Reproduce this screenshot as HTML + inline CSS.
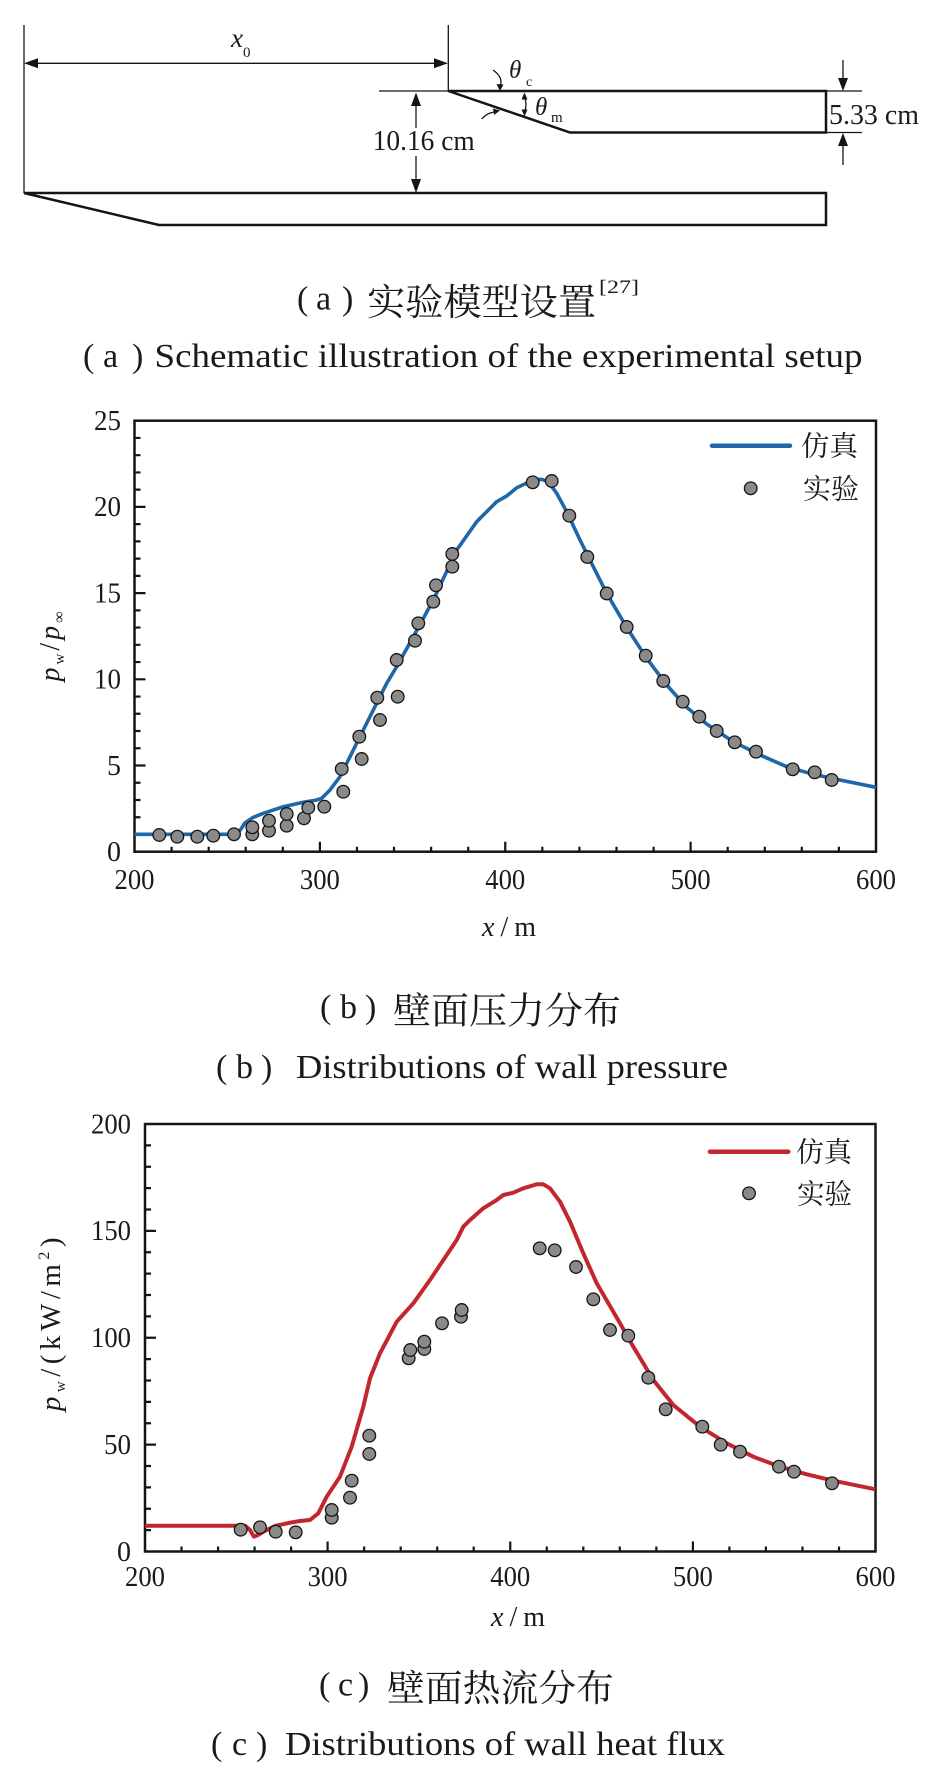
<!DOCTYPE html>
<html>
<head>
<meta charset="utf-8">
<style>
html,body{margin:0;padding:0;background:#fff;}
svg{display:block;}
text{font-family:"Liberation Serif","Noto Serif CJK SC",serif;fill:#1a1a1a;}
.cjk{font-family:"Noto Serif CJK SC","Liberation Serif",serif;}
</style>
</head>
<body>
<svg width="934" height="1780" viewBox="0 0 934 1780" xmlns="http://www.w3.org/2000/svg">
<rect width="934" height="1780" fill="#fff"/>

<!-- ============ (a) schematic ============ -->
<g stroke="#151515" fill="none" stroke-width="1.3">
  <line x1="24" y1="25" x2="24" y2="193"/>
  <line x1="448.3" y1="25" x2="448.3" y2="91"/>
  <line x1="30" y1="63.3" x2="442" y2="63.3"/>
  <line x1="379" y1="91" x2="448.3" y2="91"/>
  <line x1="826" y1="91" x2="862" y2="91"/>
  <line x1="826" y1="132.5" x2="862" y2="132.5"/>
  <line x1="843" y1="60" x2="843" y2="80"/>
  <line x1="843" y1="145" x2="843" y2="165"/>
  <line x1="416" y1="104" x2="416" y2="128"/>
  <line x1="416" y1="156" x2="416" y2="181"/>
  <path d="M493,70 Q503,77 500.5,85"/>
  <path d="M524.5,97 Q527.5,104.5 524.5,112"/>
  <path d="M481.7,119 Q488,112 496,112"/>
</g>
<g fill="#151515" stroke="none">
  <polygon points="24,63.3 38,58.3 38,68.3"/>
  <polygon points="448,63.3 434,58.3 434,68.3"/>
  <polygon points="843,91 838,78 848,78"/>
  <polygon points="843,133 838,146 848,146"/>
  <polygon points="416,92.5 411,106 421,106"/>
  <polygon points="416,193 411,179 421,179"/>
  <polygon points="500,91 496.5,84 503.5,84.5"/>
  <polygon points="524.5,92.5 521.5,99.5 527.5,99.5"/>
  <polygon points="524.5,116.5 521.5,109.5 527.5,109.5"/>
  <polygon points="500,110.5 493,108.5 494,115"/>
</g>
<g stroke="#151515" fill="none" stroke-width="2.5" stroke-linejoin="miter">
  <polygon points="448.3,91 826,91 826,132.5 570,132.5"/>
  <polygon points="24,193 826,193 826,225 159,225"/>
</g>
<text x="231" y="47" font-size="27" font-style="italic">x</text>
<text x="243" y="57" font-size="15">0</text>
<text x="509" y="78" font-size="25" font-style="italic">θ</text>
<text x="526" y="86" font-size="14">c</text>
<text x="535" y="115" font-size="25" font-style="italic">θ</text>
<text x="551" y="122" font-size="15">m</text>
<rect x="371" y="128" width="106" height="26" fill="#fff"/>
<text x="372.7" y="150" font-size="28" textLength="102" lengthAdjust="spacingAndGlyphs">10.16 cm</text>
<text x="829" y="124" font-size="28" textLength="90" lengthAdjust="spacingAndGlyphs">5.33 cm</text>

<!-- caption a -->
<text x="297" y="309.5" font-size="34">(</text>
<text x="316" y="309.5" font-size="34">a</text>
<text x="342" y="309.5" font-size="34">)</text>
<text class="cjk" x="367" y="299" font-size="37" dominant-baseline="central" textLength="229" lengthAdjust="spacingAndGlyphs">实验模型设置</text>
<text x="599" y="293" font-size="19" textLength="40" lengthAdjust="spacingAndGlyphs">[27]</text>
<text x="83" y="367" font-size="34">(</text>
<text x="103" y="367" font-size="34">a</text>
<text x="132" y="367" font-size="34">)</text>
<text x="154.5" y="367" font-size="34" textLength="708" lengthAdjust="spacingAndGlyphs">Schematic illustration of the experimental setup</text>

<!-- ============ (b) pressure ============ -->
<rect x="134.5" y="420.7" width="741.5" height="431" fill="none" stroke="#151515" stroke-width="2.5"/>
<path stroke="#151515" stroke-width="2.2" fill="none" d="
M171.6 851.7v-5 M208.7 851.7v-5 M245.7 851.7v-5 M282.8 851.7v-5 M319.9 851.7v-10
M356.95 851.7v-5 M394 851.7v-5 M431.1 851.7v-5 M468.2 851.7v-5 M505.25 851.7v-10
M542.3 851.7v-5 M579.4 851.7v-5 M616.5 851.7v-5 M653.6 851.7v-5 M690.6 851.7v-10
M727.7 851.7v-5 M764.8 851.7v-5 M801.8 851.7v-5 M838.9 851.7v-5
M134.5 834.46h6 M134.5 817.22h6 M134.5 799.98h6 M134.5 782.74h6 M134.5 765.5h11
M134.5 748.26h6 M134.5 731.02h6 M134.5 713.78h6 M134.5 696.54h6 M134.5 679.3h11
M134.5 662.06h6 M134.5 644.82h6 M134.5 627.58h6 M134.5 610.34h6 M134.5 593.1h11
M134.5 575.86h6 M134.5 558.62h6 M134.5 541.38h6 M134.5 524.14h6 M134.5 506.9h11
M134.5 489.66h6 M134.5 472.42h6 M134.5 455.18h6 M134.5 437.94h6"/>
<g font-size="28" text-anchor="middle">
  <text x="134.5" y="889" textLength="40" lengthAdjust="spacingAndGlyphs">200</text>
  <text x="319.9" y="889" textLength="40" lengthAdjust="spacingAndGlyphs">300</text>
  <text x="505.25" y="889" textLength="40" lengthAdjust="spacingAndGlyphs">400</text>
  <text x="690.6" y="889" textLength="40" lengthAdjust="spacingAndGlyphs">500</text>
  <text x="876" y="889" textLength="40" lengthAdjust="spacingAndGlyphs">600</text>
</g>
<g font-size="28" text-anchor="end">
  <text x="121" y="861">0</text>
  <text x="121" y="774.8">5</text>
  <text x="121" y="688.6" textLength="27" lengthAdjust="spacingAndGlyphs">10</text>
  <text x="121" y="602.4" textLength="27" lengthAdjust="spacingAndGlyphs">15</text>
  <text x="121" y="516.2" textLength="27" lengthAdjust="spacingAndGlyphs">20</text>
  <text x="121" y="430" textLength="27" lengthAdjust="spacingAndGlyphs">25</text>
</g>
<text x="482" y="936" font-size="28" textLength="54"><tspan font-style="italic">x</tspan>/m</text>
<text transform="translate(59,645) rotate(-90)" text-anchor="middle" font-size="28" letter-spacing="3"><tspan font-style="italic">p</tspan><tspan font-size="15" dy="5">w</tspan><tspan dy="-5">/</tspan><tspan font-style="italic">p</tspan><tspan font-size="16" dy="5">∞</tspan></text>

<polyline fill="none" stroke="#1f67a8" stroke-width="3.6" stroke-linejoin="round" points="134.5,834.3 236.7,834.3 241,829 245,822.7 253,817.5 263.3,813.3 283.3,806.7 303.3,802.3 316.7,800 321.7,798.3 330,790 340,776.7 350,756.7 363.3,730 373.3,710 386.7,683.3 396.7,666.7 413.3,636.7 433.3,600 456.7,550 476.7,521.7 496.7,501.7 506.7,496 516.7,487.7 533.3,480 541.7,479.3 548.3,481.7 556.7,493.3 566.7,511.7 580,540 593.3,566.7 606.7,593.3 626.7,627.5 646.7,658.3 666.7,685 686.7,707.3 706.7,724 733.3,741.7 760,755 786.7,766.7 813.3,774.3 840,780 876,787.3"/>

<g fill="#8a8a8a" stroke="#141414" stroke-width="1.3">
  <circle cx="159.3" cy="835" r="6.3"/><circle cx="177.3" cy="836.7" r="6.3"/><circle cx="197.3" cy="836.7" r="6.3"/>
  <circle cx="213.3" cy="835.7" r="6.3"/><circle cx="234" cy="834.3" r="6.3"/>
  <circle cx="252.3" cy="834.3" r="6.3"/><circle cx="252.3" cy="827.3" r="6.3"/>
  <circle cx="269" cy="830.7" r="6.3"/><circle cx="269" cy="820.7" r="6.3"/>
  <circle cx="286.7" cy="825.7" r="6.3"/><circle cx="286.7" cy="814" r="6.3"/>
  <circle cx="304" cy="818.3" r="6.3"/><circle cx="308.3" cy="807.7" r="6.3"/><circle cx="324.3" cy="806.7" r="6.3"/>
  <circle cx="343.3" cy="791.7" r="6.3"/><circle cx="341.7" cy="769" r="6.3"/>
  <circle cx="361.7" cy="759" r="6.3"/><circle cx="359.3" cy="736.7" r="6.3"/>
  <circle cx="380" cy="720" r="6.3"/><circle cx="377.3" cy="697.7" r="6.3"/>
  <circle cx="397.7" cy="696.7" r="6.3"/><circle cx="396.7" cy="660" r="6.3"/>
  <circle cx="415" cy="640.7" r="6.3"/><circle cx="418.3" cy="623.3" r="6.3"/>
  <circle cx="433.3" cy="601.7" r="6.3"/><circle cx="436" cy="585.3" r="6.3"/>
  <circle cx="452.3" cy="566.7" r="6.3"/><circle cx="452.3" cy="554" r="6.3"/>
  <circle cx="532.7" cy="482.3" r="6.3"/><circle cx="551.7" cy="481" r="6.3"/>
  <circle cx="569.3" cy="515.7" r="6.3"/><circle cx="587.3" cy="557" r="6.3"/>
  <circle cx="606.7" cy="593.5" r="6.3"/><circle cx="626.7" cy="627" r="6.3"/>
  <circle cx="645.7" cy="655.7" r="6.3"/><circle cx="663.3" cy="681" r="6.3"/>
  <circle cx="682.7" cy="701.7" r="6.3"/><circle cx="699.3" cy="716.7" r="6.3"/>
  <circle cx="716.7" cy="731" r="6.3"/><circle cx="734.7" cy="742.3" r="6.3"/>
  <circle cx="756" cy="751.7" r="6.3"/><circle cx="792.7" cy="769.3" r="6.3"/>
  <circle cx="814.7" cy="772.3" r="6.3"/><circle cx="831.7" cy="780" r="6.3"/>
  <circle cx="750.7" cy="488.3" r="6.3"/>
</g>
<line x1="712" y1="445.7" x2="790" y2="445.7" stroke="#1f67a8" stroke-width="4.5" stroke-linecap="round"/>
<text class="cjk" x="801" y="444.5" font-size="28" dominant-baseline="central" textLength="57" lengthAdjust="spacingAndGlyphs">仿真</text>
<text class="cjk" x="803" y="487.5" font-size="28" dominant-baseline="central" textLength="56" lengthAdjust="spacingAndGlyphs">实验</text>

<!-- caption b -->
<text x="320" y="1018" font-size="34">(</text>
<text x="340" y="1018" font-size="34">b</text>
<text x="365" y="1018" font-size="34">)</text>
<text class="cjk" x="393" y="1007.5" font-size="37" dominant-baseline="central" textLength="228" lengthAdjust="spacingAndGlyphs">壁面压力分布</text>
<text x="216" y="1078" font-size="34">(</text>
<text x="236" y="1078" font-size="34">b</text>
<text x="261" y="1078" font-size="34">)</text>
<text x="296" y="1078" font-size="34" textLength="432" lengthAdjust="spacingAndGlyphs">Distributions of wall pressure</text>

<!-- ============ (c) heat flux ============ -->
<rect x="145" y="1124" width="730.5" height="427.5" fill="none" stroke="#151515" stroke-width="2.5"/>
<path stroke="#151515" stroke-width="2.2" fill="none" d="
M181.5 1551.5v-5 M218.05 1551.5v-5 M254.6 1551.5v-5 M291.1 1551.5v-5 M327.6 1551.5v-10
M364.15 1551.5v-5 M400.7 1551.5v-5 M437.2 1551.5v-5 M473.7 1551.5v-5 M510.25 1551.5v-10
M546.8 1551.5v-5 M583.3 1551.5v-5 M619.8 1551.5v-5 M656.35 1551.5v-5 M692.9 1551.5v-10
M729.4 1551.5v-5 M765.9 1551.5v-5 M802.45 1551.5v-5 M839 1551.5v-5
M145 1530.1h6 M145 1508.75h6 M145 1487.4h6 M145 1466h6 M145 1444.6h11
M145 1423.25h6 M145 1401.9h6 M145 1380.5h6 M145 1359.1h6 M145 1337.75h11
M145 1316.4h6 M145 1295h6 M145 1273.6h6 M145 1252.25h6 M145 1230.9h11
M145 1209.5h6 M145 1188.1h6 M145 1166.75h6 M145 1145.4h6"/>
<g font-size="28" text-anchor="middle">
  <text x="145" y="1586" textLength="40" lengthAdjust="spacingAndGlyphs">200</text>
  <text x="327.6" y="1586" textLength="40" lengthAdjust="spacingAndGlyphs">300</text>
  <text x="510.25" y="1586" textLength="40" lengthAdjust="spacingAndGlyphs">400</text>
  <text x="692.9" y="1586" textLength="40" lengthAdjust="spacingAndGlyphs">500</text>
  <text x="875.5" y="1586" textLength="40" lengthAdjust="spacingAndGlyphs">600</text>
</g>
<g font-size="28" text-anchor="end">
  <text x="131" y="1560.8">0</text>
  <text x="131" y="1453.9" textLength="27" lengthAdjust="spacingAndGlyphs">50</text>
  <text x="131" y="1347" textLength="40" lengthAdjust="spacingAndGlyphs">100</text>
  <text x="131" y="1240.2" textLength="40" lengthAdjust="spacingAndGlyphs">150</text>
  <text x="131" y="1133.3" textLength="40" lengthAdjust="spacingAndGlyphs">200</text>
</g>
<text x="491" y="1626" font-size="28" textLength="54"><tspan font-style="italic">x</tspan>/m</text>
<text transform="translate(60,1322) rotate(-90)" text-anchor="middle" font-size="29" letter-spacing="4.5"><tspan font-style="italic">p</tspan><tspan font-size="15" dy="5">w</tspan><tspan dy="-5">/(kW/m</tspan><tspan font-size="16" dy="-11">2</tspan><tspan dy="11">)</tspan></text>

<polyline fill="none" stroke="#c1272d" stroke-width="4" stroke-linejoin="round" points="145,1525.7 245,1525.7 250,1530 254,1536.7 258,1535 263.3,1531.7 275,1526 290,1522.7 300,1521 310,1520 318.3,1513.3 326.7,1496.7 340,1476.7 351.7,1446.7 363.3,1406.7 370,1378.3 380,1353.3 396.7,1321.7 413.3,1303.3 430,1280 446.7,1255 456.7,1240 463.3,1226.7 470,1220 483.3,1208.3 496.7,1200 503.3,1195 513.3,1192.7 523.3,1188.3 536.7,1184.3 543.3,1184.3 550,1188.3 560,1201.7 570,1221.7 583.3,1253.3 596.7,1283.3 620,1323.3 633.3,1346.7 653.3,1380 673.3,1405 700,1426.7 726.7,1443.3 753.3,1456.7 780,1466.7 806.7,1474.3 833.3,1480.7 875.5,1489.3"/>

<g fill="#8a8a8a" stroke="#141414" stroke-width="1.3">
  <circle cx="240.7" cy="1529.7" r="6.3"/><circle cx="260" cy="1527.3" r="6.3"/>
  <circle cx="275.7" cy="1531.7" r="6.3"/><circle cx="295.7" cy="1532.3" r="6.3"/>
  <circle cx="331.7" cy="1517.7" r="6.3"/><circle cx="331.7" cy="1510" r="6.3"/>
  <circle cx="350" cy="1497.7" r="6.3"/><circle cx="351.7" cy="1480.7" r="6.3"/>
  <circle cx="369.3" cy="1454" r="6.3"/><circle cx="369.3" cy="1435.7" r="6.3"/>
  <circle cx="408.7" cy="1358.3" r="6.3"/><circle cx="410.3" cy="1350" r="6.3"/>
  <circle cx="424.3" cy="1349" r="6.3"/><circle cx="424.3" cy="1341.7" r="6.3"/>
  <circle cx="442" cy="1323.3" r="6.3"/>
  <circle cx="461" cy="1316.7" r="6.3"/><circle cx="461.7" cy="1310" r="6.3"/>
  <circle cx="539.7" cy="1248.3" r="6.3"/><circle cx="554.7" cy="1250.3" r="6.3"/>
  <circle cx="576" cy="1267" r="6.3"/><circle cx="593.3" cy="1299.3" r="6.3"/>
  <circle cx="610" cy="1330" r="6.3"/><circle cx="628.3" cy="1335.7" r="6.3"/>
  <circle cx="648.3" cy="1377.7" r="6.3"/><circle cx="665.7" cy="1409.3" r="6.3"/>
  <circle cx="702.3" cy="1426.7" r="6.3"/><circle cx="720.7" cy="1444.7" r="6.3"/>
  <circle cx="740" cy="1451.7" r="6.3"/><circle cx="779" cy="1466.7" r="6.3"/>
  <circle cx="794" cy="1471.7" r="6.3"/><circle cx="832" cy="1483.3" r="6.3"/>
  <circle cx="749" cy="1193.3" r="6.3"/>
</g>
<line x1="710" y1="1151.7" x2="788.3" y2="1151.7" stroke="#c1272d" stroke-width="4.5" stroke-linecap="round"/>
<text class="cjk" x="796" y="1150.5" font-size="28" dominant-baseline="central" textLength="56" lengthAdjust="spacingAndGlyphs">仿真</text>
<text class="cjk" x="797" y="1192.5" font-size="28" dominant-baseline="central" textLength="55" lengthAdjust="spacingAndGlyphs">实验</text>

<!-- caption c -->
<text x="319" y="1695.5" font-size="34">(</text>
<text x="338" y="1695.5" font-size="34">c</text>
<text x="358" y="1695.5" font-size="34">)</text>
<text class="cjk" x="387" y="1685" font-size="37" dominant-baseline="central" textLength="227" lengthAdjust="spacingAndGlyphs">壁面热流分布</text>
<text x="211" y="1755" font-size="34">(</text>
<text x="232" y="1755" font-size="34">c</text>
<text x="256" y="1755" font-size="34">)</text>
<text x="285" y="1755" font-size="34" textLength="440" lengthAdjust="spacingAndGlyphs">Distributions of wall heat flux</text>
</svg>
</body>
</html>
